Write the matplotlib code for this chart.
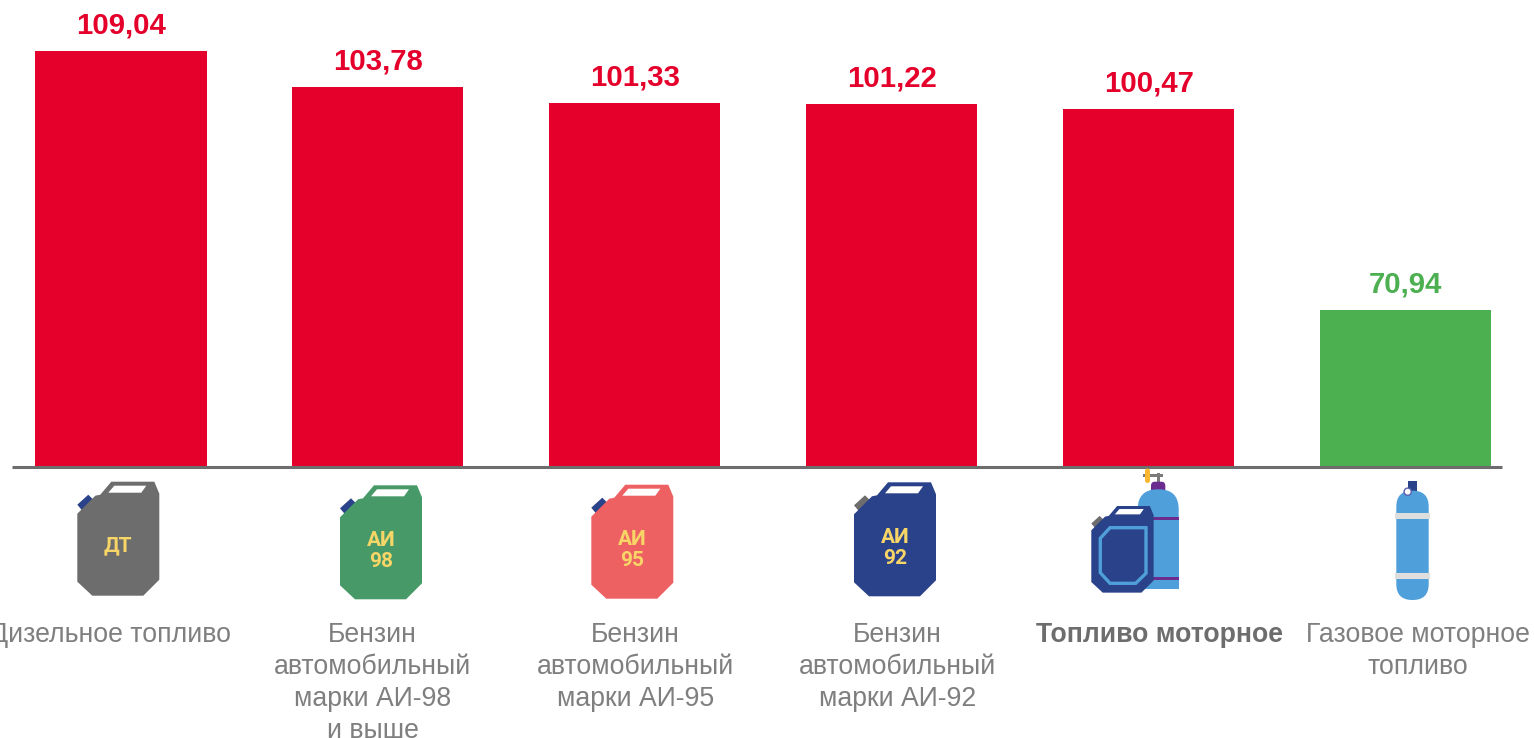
import matplotlib
matplotlib.use('Agg')
import matplotlib.pyplot as plt
from matplotlib.patches import Polygon, Rectangle, FancyBboxPatch, Circle

categories = ['Дизельное топливо',
              'Бензин\nавтомобильный\nмарки АИ-98\nи выше',
              'Бензин\nавтомобильный\nмарки АИ-95',
              'Бензин\nавтомобильный\nмарки АИ-92',
              'Топливо моторное',
              'Газовое моторное\nтопливо']
values = [109.04, 103.78, 101.33, 101.22, 100.47, 70.94]
value_labels = ['109,04', '103,78', '101,33', '101,22', '100,47', '70,94']

RED = '#e4002b'
GREEN = '#4caf50'
bar_colors = [RED, RED, RED, RED, RED, GREEN]
NAVY = '#2a4289'
LIGHT_BLUE = '#4f9fdb'
YELLOW = '#f7d566'
PURPLE = '#6a2c8e'
GRAY = '#6d6d6d'

W, H = 1534, 738
SPACING = 256.8
# category labels do not sit exactly under their bars, px
label_shift = [-10, -5, 1, 6, 11, 13]

plt.rcParams['font.family'] = ['Liberation Sans', 'DejaVu Sans']

# can outline, px, relative to its top left corner
CAN = [(0, 32), (18, 14), (23, 13), (34, 0), (77, 0), (82, 12), (82, 98), (66, 114), (15, 114), (0, 100)]
WINDOW = [(31, 11), (37, 4), (69, 4), (64, 11)]
CAP = [(0, 23), (11, 13), (16, 18), (5, 29)]


def draw_can(ax, x0, y0, color, cap, lines=(), scale=1.0):
    def place(pts):
        return [(x0 + px * scale, y0 + py * scale) for px, py in pts]
    ax.add_patch(Polygon(place(CAP), color=cap, lw=0))
    ax.add_patch(Polygon(place(CAN), color=color, lw=0))
    ax.add_patch(Polygon(place(WINDOW), color='white', lw=0))
    for ty, txt in lines:
        ax.text(x0 + 41 * scale, y0 + ty, txt, color=YELLOW, fontsize=15, fontweight='bold',
                ha='center', va='center', family=['Roboto'])


fig = plt.figure(figsize=(W / 100, H / 100), dpi=100)
ax = fig.add_axes([12 / W, (H - 466.5) / H, 1490 / W, 466.5 / H])

ax.bar(range(len(values)), values, width=171 / SPACING, color=bar_colors)
ax.set_xlim((12 - 121) / SPACING, (1502 - 121) / SPACING)
ax.set_ylim(47.9, 47.9 + 466.5 / 6.8)

for i, v in enumerate(values):
    ax.annotate(value_labels[i], (i, v), xytext=(0.4, 8.2), textcoords='offset points', ha='center',
                va='bottom', fontsize=21.2, fontweight='bold', color=bar_colors[i], annotation_clip=False)

ax.set_xticks([i + label_shift[i] / SPACING for i in range(len(values))])
ax.set_xticklabels(categories, fontsize=19.2, color='#7f7f7f', linespacing=1.31, va='top')
ax.get_xticklabels()[4].set_fontweight('bold')
ax.get_xticklabels()[4].set_color('#6d6d6d')
ax.tick_params(axis='x', length=0, pad=111.6)
ax.set_yticks([])
for side in ['top', 'left', 'right']:
    ax.spines[side].set_visible(False)
ax.spines['bottom'].set_color(GRAY)
ax.spines['bottom'].set_linewidth(2.2)
ax.spines['bottom'].set_capstyle('butt')

# icons, drawn in pixel coordinates on an overlay
ic = fig.add_axes([0, 0, 1, 1])
ic.set_xlim(0, W)
ic.set_ylim(H, 0)
ic.axis('off')
ic.patch.set_alpha(0)

draw_can(ic, 77.3, 481.7, GRAY, NAVY, [(64, 'ДТ')])
draw_can(ic, 340, 485.3, '#479a68', NAVY, [(55, 'АИ'), (76, '98')])
draw_can(ic, 591.3, 484.7, '#ee6163', NAVY, [(55, 'АИ'), (76, '95')])
draw_can(ic, 854, 482.3, NAVY, GRAY, [(55, 'АИ'), (76, '92')])

# fuel can + gas cylinder
ic.add_patch(Rectangle((1143, 473.7), 19.7, 3, color='#7a7a7a', lw=0))
ic.add_patch(Rectangle((1156.5, 472.7), 3, 10, color='#7a7a7a', lw=0))
ic.add_patch(FancyBboxPatch((1145, 468.5), 5, 14.5, boxstyle='round,pad=0,rounding_size=2.5', color='#fbb731', lw=0))
ic.add_patch(FancyBboxPatch((1151, 481.7), 14.3, 12, boxstyle='round,pad=0,rounding_size=4', color=PURPLE, lw=0))
ic.add_patch(FancyBboxPatch((1137.7, 489.3), 41, 60, boxstyle='round,pad=0,rounding_size=20', color=LIGHT_BLUE, lw=0))
ic.add_patch(Rectangle((1137.7, 520), 41, 69.3, color=LIGHT_BLUE, lw=0))
ic.add_patch(Rectangle((1137.7, 517), 41, 2.6, color=PURPLE, lw=0))
ic.add_patch(Rectangle((1137.7, 577), 41, 2.6, color=PURPLE, lw=0))
draw_can(ic, 1091.3, 506, NAVY, GRAY, scale=0.76)
ic.add_patch(Polygon([(1100.3, 538.3), (1110, 527.7), (1146, 527.7), (1146, 573.3), (1135.7, 583.3),
                      (1110, 583.3), (1100.3, 572.7)], closed=True, facecolor=NAVY,
                     edgecolor=LIGHT_BLUE, lw=2.4))

# gas cylinder
ic.add_patch(Rectangle((1407.7, 480.7), 9.3, 12, color=NAVY, lw=0))
ic.add_patch(FancyBboxPatch((1396.3, 490.7), 32.4, 109.3, boxstyle='round,pad=0,rounding_size=16',
                            color=LIGHT_BLUE, lw=0))
ic.add_patch(Rectangle((1395, 513), 35, 6, color='#dedede', lw=0))
ic.add_patch(Rectangle((1395, 573), 35, 6, color='#dedede', lw=0))
ic.add_patch(Circle((1407.7, 491.7), 3.6, facecolor='white', edgecolor='#5a5fb0', lw=1))

fig.savefig('out.png', dpi=100)
